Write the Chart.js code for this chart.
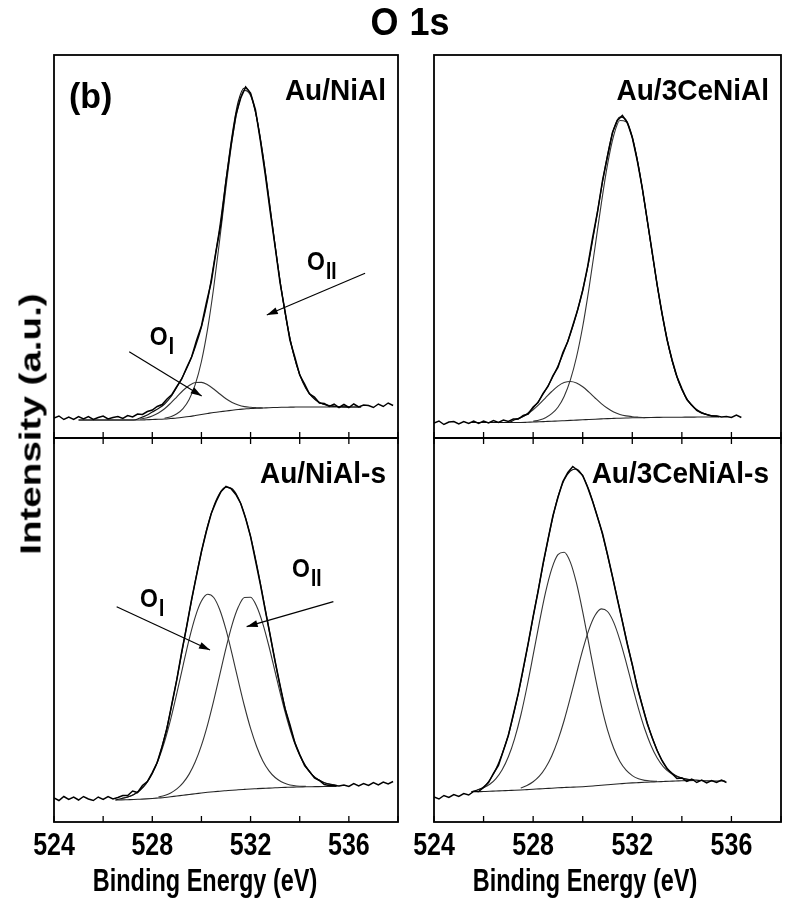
<!DOCTYPE html>
<html>
<head>
<meta charset="utf-8">
<script src="https://cdn.jsdelivr.net/npm/chart.js@4.4.1/dist/chart.umd.min.js"></script>
<style>
  html, body { margin: 0; padding: 0; background: #fff; }
  #wrap { position: relative; width: 792px; height: 911px; overflow: hidden; }
  canvas { position: absolute; left: 0; top: 0; }
  .txt { position: absolute; color: #000; white-space: nowrap; line-height: 1; }
  #title { left: 410px; top: 1px; transform: translateX(-50%) scaleY(1.08); word-spacing: 1px;
           font: bold 36px "Liberation Sans", Arial, sans-serif; }
  #ylab { left: 31px; top: 424px; transform: translate(-50%, -50%) rotate(-90deg) scaleX(1.33);
          font: bold 29px "Liberation Sans", Arial, sans-serif; }
</style>
</head>
<body>
<div id="wrap">
  <canvas id="nial" width="792" height="911"></canvas>
  <canvas id="ce" width="792" height="911"></canvas>
  <canvas id="nialS" width="792" height="911"></canvas>
  <canvas id="ceS" width="792" height="911"></canvas>
  <div class="txt" id="title">O 1s</div>
  <div class="txt" id="ylab">Intensity (a.u.)</div>
</div>
<script>
const _ = null;

// energy grids (eV)
const fitEnergy = [525, 525.25, 525.5, 525.75, 526, 526.25, 526.5, 526.75, 527, 527.25,
  527.5, 527.75, 528, 528.25, 528.5, 528.75, 529, 529.25, 529.5, 529.75,
  530, 530.25, 530.5, 530.75, 531, 531.25, 531.5, 531.75, 532, 532.25,
  532.5, 532.75, 533, 533.25, 533.5, 533.75, 534, 534.25, 534.5, 534.75,
  535, 535.25, 535.5, 535.75, 536, 536.25, 536.5, 536.75, 537];
const rawEnergy = [524, 524.2, 524.4, 524.6, 524.8, 525, 525.2, 525.4, 525.6, 525.8,
  526, 526.2, 526.4, 526.6, 526.8, 527, 527.2, 527.4, 527.6, 527.8,
  528, 528.2, 528.4, 528.6, 528.8, 529, 529.2, 529.4, 529.6, 529.8,
  530, 530.2, 530.4, 530.6, 530.8, 531, 531.2, 531.4, 531.6, 531.8,
  532, 532.2, 532.4, 532.6, 532.8, 533, 533.2, 533.4, 533.6, 533.8,
  534, 534.2, 534.4, 534.6, 534.8, 535, 535.2, 535.4, 535.6, 535.8,
  536, 536.2, 536.4, 536.6, 536.8, 537, 537.2, 537.4, 537.6, 537.8];

const tickValues = [524, 526, 528, 530, 532, 534, 536, 538];
const labelValues = [524, 528, 532, 536];

// Au/NiAl
const nialRaw = [20, 22, 18.5, 21, 18.5, 21.5, 19, 21.5, 18.5, 20.5,
  22, 19, 20.5, 21.5, 19.5, 22.5, 21, 24, 23.5, 26.5,
  28, 31.5, 33.5, 39, 43.5, 51.5, 59, 70.5, 81, 97.5,
  112, 135, 156, 187, 215, 257, 292, 323, 340, 351,
  345, 328, 297, 263, 226, 191, 155, 127, 98, 81,
  63, 54, 44, 41, 35, 34.5, 31.5, 34, 30.5, 33.5,
  30.5, 34, 31, 33, 32.5, 30.5, 34, 31.5, 35, 32.5];
const nialBg = [18, 18, 18, 18, 18, 18, 18, 18, 18, 18, 18,
  18.2, 18.5, 18.7, 19, 19.5, 20, 20.7, 21.5, 22.5, 23.5, 24.5, 25.5, 26.3, 27,
  27.8, 28.5, 29, 29.5, 29.8, 30, 30.3, 30.5, 30.7, 30.8, 30.9,
  31, 31, 31, 31, 31, 31, 31, 31, 31, 31, 31, _, _];
const nialO1 = [_, _, _, _, _, _, _, _, _, _,
  19, 20, 22, 25, 29.2, 34.9, 41.2, 47.5, 52.5, 55.5, 55.6, 53.2, 49, 44, 39.2,
  35.5, 33, 31.4, 30.7, 30.3, 30,
  _, _, _, _, _, _, _, _, _, _, _, _, _, _, _, _, _, _];
const nialO2 = [_, _, _, _, _, _, _, _, _, _, _, _, _, _,
  19.8, 21.3, 24.2, 29.4, 38.5, 53.6, 76.5, 108.8, 150.5, 199.5, 250.7, 297.8, 332,
  347.6, 342.5, 319.8, 283.3, 238.7, 192.3, 149, 112.4, 83.9, 63.5, 49.8, 41.3, 36.3,
  33.5, 32.2, 31.5, 31.2, 31, _, _, _, _];
const nialFit = [18, 18, 18, 18, 18, 18, 18, 18, 18, 18,
  20, 22.5, 26, 29.5, 34, 41, 51, 62, 75, 91, 111, 137.5, 174, 212, 258, 303, 336.5,
  350, 343.7, 320.3, 283.3, 238.7, 192.3, 149, 112.4, 83.9, 63.5, 49.8, 41.3, 36.3,
  33.5, 32.2, 31.5, 31.2, 31, 31, 31, _, _];

// Au/3CeNiAl
const ceRaw = [15, 17, 13.5, 16, 16.5, 14, 16.5, 14.5, 17, 14.5,
  17, 15, 17.5, 15.5, 18, 16.5, 19, 19, 22.5, 24,
  31, 35.5, 44.5, 51.5, 62.5, 70.5, 85.5, 96.5, 112.5, 128.5,
  147.5, 171.5, 200.5, 226.5, 257.5, 281.5, 305.5, 317.5, 322.5, 315.5,
  300.5, 277.5, 250.5, 218.5, 186.5, 153.5, 124.5, 98.5, 78.5, 61.5,
  49.5, 38.5, 33, 27.5, 25, 23.5, 22, 22, 21, 21.5,
  20.5, 23, 20.5, _, _, _, _, _, _, _];
const ceBg = [_, _, 15.5, 15.5, 15.5, 15.5, 15.5, 15.5, 15.5, 15.5, 15.5,
  15.7, 16, 16.2, 16.5, 16.8, 17, 17.3, 17.6, 17.9, 18.2, 18.5, 18.8, 19.1, 19.4,
  19.6, 19.8, 20, 20.2, 20.3, 20.4, 20.5, 20.6, 20.7, 20.7, 20.8, 20.8, 20.9, 20.9,
  21, 21, 21, 21, _, _, _, _, _, _];
const ceO1 = [_, _, _, _, _, _, _, _, _,
  18.2, 20.2, 23.6, 28.2, 33.8, 40.2, 46.5, 51.9, 55.4, 56.5, 55, 51.2, 45.9, 40,
  34.4, 29.7, 26.1, 23.6, 22.1, 21.3, 20.8, 20.4,
  _, _, _, _, _, _, _, _, _, _, _, _, _, _, _, _, _, _];
const ceO2 = [_, _, _, _, _, _, _, _, _, _, _, _,
  16.8, 18, 20.3, 24.3, 30.8, 41.6, 57.9, 81, 111.5, 149.2, 191.3, 234.4, 273.3,
  302.5, 317.5, 316.2, 300.1, 271.5, 234.3, 193.6, 153.6, 117.8, 88, 65, 48.5, 37.2,
  30.2, 25.9, 23.5, 22.2, 21.5, _, _, _, _, _, _];
const ceFit = [_, _, 15.5, 15.5, 15.5, 15.5, 15.5, 15.5, 15.5,
  18.2, 20.5, 24, 30, 38, 48, 59, 72, 87, 104, 124, 148, 177, 212, 249, 283, 309, 321,
  318, 301, 272, 234.6, 193.6, 153.6, 117.8, 88, 65, 48.5, 37.2, 30.2, 25.9, 23.5,
  22.2, 21.5, _, _, _, _, _, _];

// Au/NiAl-s
const nialSRaw = [24, 21.5, 25.5, 22.5, 25, 22, 25.5, 23, 21.5, 25,
  22.5, 25.5, 23, 24.5, 26.5, 26.5, 31, 29.5, 36.5, 40.5,
  49.5, 59.5, 75.5, 93.5, 118.5, 142.5, 170.5, 195.5, 222.5, 246.5,
  270.5, 290.5, 308.5, 320.5, 330.5, 335.5, 333.5, 327.5, 318.5, 303.5,
  285.5, 261.5, 237.5, 211.5, 186.5, 160.5, 136.5, 113.5, 97.5, 79.5,
  67.5, 56.5, 50.5, 44, 41.5, 37.5, 36.5, 36.5, 36, 37,
  35.5, 38.5, 36, 38.5, 36.5, 39.5, 37, 40, 38, 40.5];
const nialSBg = [_, _, _, _, _, _,
  22, 22.1, 22.3, 22.5, 22.8, 23.1, 23.5, 24, 24.5, 25.2, 26, 26.7, 27.5, 28.2, 29,
  29.7, 30.3, 30.8, 31.3, 31.8, 32.2, 32.6, 33, 33.3, 33.6, 33.9, 34.2, 34.5, 34.7,
  34.9, 35, 35.2, 35.3, 35.4, 35.5, 35.6, 35.6, _, _, _, _, _, _];
const nialSO1 = [_, _, _, _, _, _, _,
  23.5, 25, 27.5, 31.8, 38.4, 48.3, 62.1, 80.3, 102.8, 128.8, 156.2, 182.7, 205.2,
  220.9, 227.7, 224.5, 212, 192.3, 167.6, 141.3, 116, 93.6, 75.3, 61.1, 51.2, 44.5,
  40.3, 37.8, 36.5, 35.8, 35.6, _, _, _, _, _, _, _, _, _, _, _];
const nialSO2 = [_, _, _, _, _, _, _, _, _, _, _, _, _,
  25, 26.6, 29.1, 33.1, 39.1, 47.9, 60.2, 76.6, 97.2, 121.4, 147.7, 173.9, 197.4,
  214.9, 224.5, 224.7, 215.5, 198.2, 175.5, 150, 124.6, 101.4, 81.8, 66.5, 55.2, 47.4,
  42.4, 39.3, 37.6, 36.6, _, _, _, _, _, _];
const nialSFit = [_, _, _, _, _, _,
  22, 23.5, 25, 27.5, 31.8, 38.6, 48.8, 63.1, 85, 112, 143, 176, 209, 241, 270, 296,
  315.6, 328.9, 334.9, 333.2, 324, 307.9, 285.3, 257.5, 225.7, 192.8, 160.3, 130.4,
  104.5, 83.4, 67.3, 55.6, 47.4, 42.4, 39.3, 37.6, 36.6, _, _, _, _, _, _];

// Au/3CeNiAl-s
const ceSRaw = [25, 23, 26.5, 24.5, 27.5, 25.5, 28.5, 27, 30.5, 30.5,
  34.5, 39.5, 48.5, 56.5, 71.5, 86.5, 107.5, 128.5, 153.5, 178.5,
  205.5, 230.5, 258.5, 282.5, 306.5, 324.5, 340.5, 349.5, 355.5, 351.5,
  346.5, 334.5, 320.5, 304.5, 288.5, 267.5, 245.5, 222.5, 200.5, 177.5,
  157.5, 134.5, 116.5, 98.5, 84.5, 71.5, 61.5, 53.5, 48.5, 43.5,
  44, 40.5, 43, 39.5, 42, 39, 41.5, 39.5, 42, 39.5,
  _, _, _, _, _, _, _, _, _, _];
const ceSBg = [_, _, _,
  30.3, 30.5, 30.7, 31, 31.2, 31.5, 31.7, 32, 32.4, 32.8, 33.1, 33.5, 33.8, 34.2,
  34.5, 34.8, 35, 35.3, 35.7, 36.2, 36.7, 37.2, 37.7, 38.2, 38.7, 39.1, 39.4, 39.7,
  40, 40.2, 40.5, 40.8, 41, 41.3, 41.4, 41.5, _, _, _, _, _, _, _, _, _, _];
const ceSO1 = [_, _, _,
  32.2, 34.2, 37.7, 43.4, 52.2, 65.2, 83.2, 106.5, 135, 166.8, 199.4, 229.6, 253.2,
  267.4, 269.8, 259.9, 238.8, 210.2, 177.8, 145.6, 116.4, 92.2, 73.7, 60.5, 51.8,
  46.4, 43.2, 41.6, 40.9, 40.6, _, _, _, _, _, _, _, _, _, _, _, _, _, _, _, _];
const ceSO2 = [_, _, _, _, _, _, _, _, _, _,
  34.1, 36.5, 40.2, 45.8, 54.3, 66.1, 81.9, 101.5, 124.3, 148.5, 172.1, 192.4, 206.7,
  213.1, 210.5, 199.6, 181.9, 159.9, 136.2, 113.4, 93.2, 76.8, 64.2, 55.4, 49.6, 45.9,
  43.9, 42.7, 42.1, _, _, _, _, _, _, _, _, _, _];
const ceSFit = [_, _,
  30, 32, 35, 42, 53, 68, 87, 112, 140, 172, 205, 238, 270, 300, 325, 342, 351, 353,
  346, 332, 313, 292, 267, 240, 212, 184, 157, 131, 108, 88, 72, 59, 51, 46.5, 44,
  42.5, 42, 41.5, 41.2, 41, 41, 41, _, _, _, _, _];

const FONT = '"Liberation Sans", Arial, sans-serif';

const toPoints = (xs, ys) => xs.map((x, i) => ({ x: x, y: ys[i] }));

const line = (xs, ys, color, width, smooth) => ({
  data: toPoints(xs, ys),
  borderColor: color,
  borderWidth: width,
  pointRadius: 0,
  fill: false,
  spanGaps: false,
  tension: 0,
  cubicInterpolationMode: smooth ? 'monotone' : 'default'
});

// the printed figure is stretched vertically, so text is drawn tall
function tallText(ctx, text, x, y, size, sy, align) {
  ctx.save();
  ctx.translate(x, y);
  ctx.scale(1, sy);
  ctx.font = 'bold ' + size + 'px ' + FONT;
  ctx.textAlign = align;
  ctx.textBaseline = 'alphabetic';
  ctx.fillText(text, 0, 0);
  const w = ctx.measureText(text).width;
  ctx.restore();
  return w;
}

function drawArrow(ctx, x1, y1, x2, y2) {
  ctx.beginPath();
  ctx.moveTo(x1, y1);
  ctx.lineTo(x2, y2);
  ctx.stroke();
  const ang = Math.atan2(y2 - y1, x2 - x1), L = 11, W = 3.5;
  const bx = x2 - L * Math.cos(ang), by = y2 - L * Math.sin(ang);
  ctx.beginPath();
  ctx.moveTo(x2, y2);
  ctx.lineTo(bx + W * Math.sin(ang), by - W * Math.cos(ang));
  ctx.lineTo(bx - W * Math.sin(ang), by + W * Math.cos(ang));
  ctx.closePath();
  ctx.fill();
}

// frame, inner ticks, axis labels, sample name and O_I / O_II notes
const makeDecor = (p) => ({
  id: 'decor',
  afterDatasetsDraw(chart) {
    const { ctx, chartArea: a, scales: { x, y } } = chart;
    ctx.save();
    ctx.strokeStyle = '#000';
    ctx.fillStyle = '#000';
    ctx.lineWidth = 1.8;
    ctx.strokeRect(a.left, a.top, a.width, a.height);
    ctx.lineWidth = 1.3;
    tickValues.forEach(v => {
      const px = x.getPixelForValue(v);
      ctx.beginPath();
      ctx.moveTo(px, a.bottom);
      ctx.lineTo(px, a.bottom - 6);
      if (p.bottom) {
        ctx.moveTo(px, a.top);
        ctx.lineTo(px, a.top + 6);
      }
      ctx.stroke();
    });

    if (p.bottom) {
      labelValues.forEach(v => {
        tallText(ctx, String(v), x.getPixelForValue(v), a.bottom + 33, 25, 1.25, 'center');
      });
      tallText(ctx, 'Binding Energy (eV)', a.left + 151, a.bottom + 69, 23.5, 1.3, 'center');
    }

    tallText(ctx, p.name, a.right - 12, a.top + 45, 28, 1.05, 'right');
    if (p.tag) tallText(ctx, p.tag, a.left + 15, a.top + 53, 34, 1.05, 'left');

    ctx.lineWidth = 1.2;
    (p.arrows || []).forEach(ar => {
      drawArrow(ctx, x.getPixelForValue(ar[0]), y.getPixelForValue(ar[1]),
        x.getPixelForValue(ar[2]), y.getPixelForValue(ar[3]));
    });
    (p.notes || []).forEach(nt => {
      const px = x.getPixelForValue(nt[0]), py = y.getPixelForValue(nt[1]);
      const w = tallText(ctx, 'O', px, py, 23, 1.15, 'left');
      tallText(ctx, nt[2], px + w + 1, py + 9, 19, 1.3, 'left');
    });
    ctx.restore();
  }
});

function makePanel(id, p) {
  return new Chart(document.getElementById(id), {
    type: 'line',
    data: {
      datasets: [
        line(rawEnergy, p.raw, '#000', 1.5, false),
        line(fitEnergy, p.fit, '#111', 1.2, true),
        line(fitEnergy, p.o1, '#333', 1.1, true),
        line(fitEnergy, p.o2, '#333', 1.1, true),
        line(fitEnergy, p.bg, '#222', 1.1, true)
      ]
    },
    options: {
      responsive: false,
      animation: false,
      events: [],
      layout: { padding: p.pad },
      plugins: { legend: { display: false }, tooltip: { enabled: false } },
      scales: {
        x: { type: 'linear', min: 524, max: 538, display: false },
        y: { type: 'linear', min: 0, max: p.ymax, display: false }
      }
    },
    plugins: [makeDecor(p)]
  });
}

makePanel('nial', {
  raw: nialRaw, fit: nialFit, o1: nialO1, o2: nialO2, bg: nialBg,
  name: 'Au/NiAl', tag: '(b)', ymax: 383, bottom: false,
  pad: { left: 54, top: 55, right: 394, bottom: 473 },
  arrows: [[527.06, 86.3, 530.01, 42], [536.66, 164.7, 532.66, 123]],
  notes: [[527.9, 93, 'I'], [534.3, 168, 'II']]
});
makePanel('ce', {
  raw: ceRaw, fit: ceFit, o1: ceO1, o2: ceO2, bg: ceBg,
  name: 'Au/3CeNiAl', ymax: 383, bottom: false,
  pad: { left: 434, top: 55, right: 11, bottom: 473 }
});
makePanel('nialS', {
  raw: nialSRaw, fit: nialSFit, o1: nialSO1, o2: nialSO2, bg: nialSBg,
  name: 'Au/NiAl-s', ymax: 384, bottom: true,
  pad: { left: 54, top: 438, right: 394, bottom: 89 },
  arrows: [[526.55, 215.3, 530.35, 172], [535.37, 220.3, 531.84, 195.3]],
  notes: [[527.5, 215, 'I'], [533.69, 245, 'II']]
});
makePanel('ceS', {
  raw: ceSRaw, fit: ceSFit, o1: ceSO1, o2: ceSO2, bg: ceSBg,
  name: 'Au/3CeNiAl-s', ymax: 384, bottom: true,
  pad: { left: 434, top: 438, right: 11, bottom: 89 }
});
</script>
</body>
</html>
